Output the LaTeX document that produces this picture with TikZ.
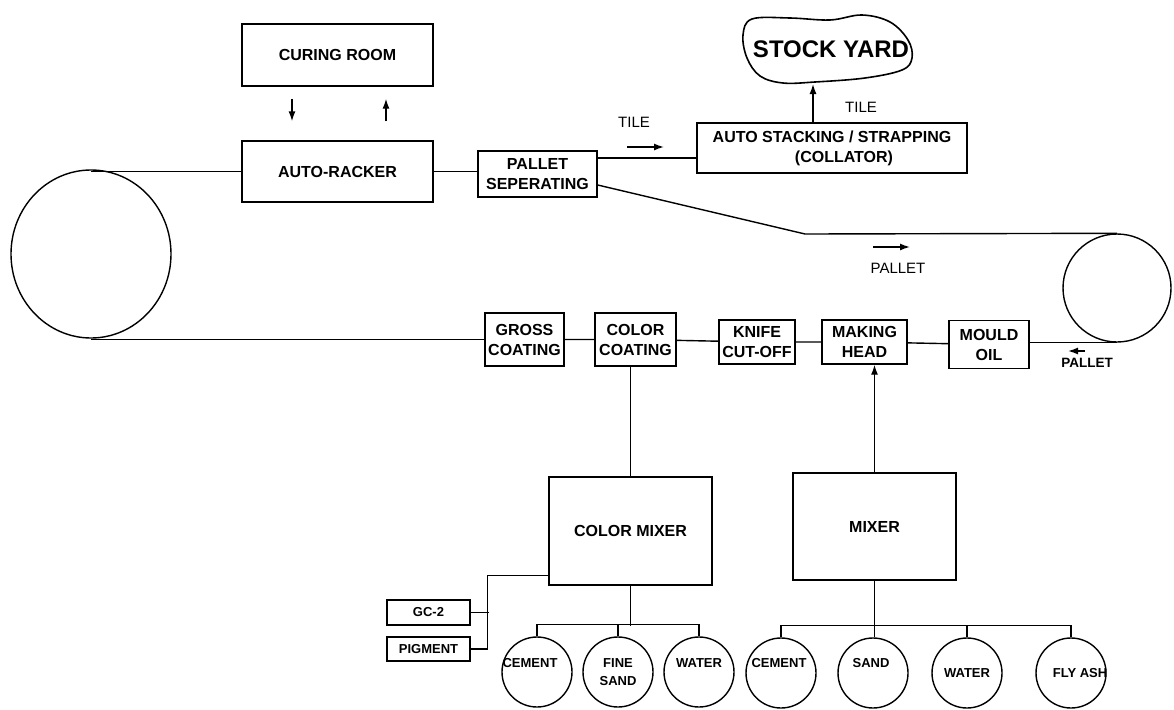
\documentclass[tikz,border=0pt]{standalone}
\usepackage{fontspec}
\setmainfont{Liberation Sans}
\usetikzlibrary{shapes.geometric,arrows.meta}

\tikzset{
  unit/.style={draw, inner sep=0pt, align=center, font=\bfseries\fontsize{16}{20}\selectfont},
  feed/.style={draw, inner sep=0pt, font=\bfseries\fontsize{13}{16}\selectfont},
  bin/.style={circle, draw, minimum size=70pt, inner sep=0pt},
  binlbl/.style={font=\bfseries\fontsize{13}{18}\selectfont, align=center, inner sep=0pt},
  flow/.style={font=\fontsize{15}{18}\selectfont, inner sep=0pt}
}

\begin{document}
\begin{tikzpicture}[x=1pt, y=-1pt, line width=1.4pt, >={Latex[length=10pt,width=7pt]}]
\useasboundingbox (0,0) rectangle (1174,709);

% curing room and racker
\node[unit, minimum width=191pt, minimum height=62pt] (curing) at (337.5,55) {CURING ROOM};
\node[unit, minimum width=191pt, minimum height=61pt] (racker) at (337.5,171.5) {AUTO-RACKER};
\draw[->, shorten <=12pt, shorten >=19pt] ([xshift=-45.5pt]curing.south) -- ([xshift=-45.5pt]racker.north);
\draw[->, shorten <=19pt, shorten >=12pt] ([xshift=48.5pt]racker.north) -- ([xshift=48.5pt]curing.south);

% separating and stacking
\node[unit, minimum width=119pt, minimum height=46pt] (palsep) at (537.5,174) {PALLET\\SEPERATING};
\node[unit, minimum width=270pt, minimum height=50pt] (stack) at (832,148) {AUTO STACKING / STRAPPING\\\hspace*{24pt}(COLLATOR)};
\draw (racker.east) -- (racker.east -| palsep.west);
\draw ([yshift=16pt]palsep.east) -- ([yshift=16pt]palsep.east -| stack.west);
\node[flow] (tilein) at (634,122) {TILE};
\draw[->] ([shift={(-7,25)}]tilein.center) -- ++(37,0);

% stock yard
\draw[line width=1.6pt] plot[smooth cycle, tension=0.6] coordinates {(743,35) (752,19) (790,18) (830,20) (862,15) (890,22) (908,40) (912,58) (902,70) (865,78) (815,82) (783,83) (760,76) (747,58)};
\node[font=\bfseries\fontsize{24}{28}\selectfont, inner sep=0pt] (yard) at (831,49) {STOCK YARD};
\coordinate (yardfoot) at (813,84);
\draw[->] (stack.north -| yardfoot) -- (yardfoot);
\node[flow] (tileup) at (861,107) {TILE};

% wheels
\node[draw, ellipse, minimum width=160pt, minimum height=168pt, inner sep=0pt] (wheell) at (91,254) {};
\node[draw, circle, minimum size=108pt, inner sep=0pt] (wheelr) at (1117,288) {};

% forming line
\node[unit, minimum width=79pt, minimum height=53pt] (gross) at (524.5,339.5) {GROSS\\COATING};
\node[unit, minimum width=81pt, minimum height=53pt] (colorcoat) at (635.5,339.5) {COLOR\\COATING};
\node[unit, minimum width=76pt, minimum height=44pt] (knife) at (757,342) {KNIFE\\CUT-OFF};
\node[unit, minimum width=85pt, minimum height=44pt] (making) at (864.5,342) {MAKING\\HEAD};
\node[unit, minimum width=80pt, minimum height=48pt] (mould) at (989,344.5) {MOULD\\OIL};
\draw (gross) -- (colorcoat) -- (knife) -- (making) -- (mould);

% pallet return
\draw (racker.west) -- (racker.west -| wheell.north);
\draw (gross.west) -- (gross.west -| wheell.south);
\coordinate (dip) at (805,234);
\draw ([yshift=-11pt]palsep.east) -- (dip) -- (wheelr.north);
\draw (mould.east |- wheelr.south) -- (wheelr.south);
\node[flow] (palletmid) at (898,268) {PALLET};
\draw[->] ([shift={(-25,-21)}]palletmid.center) -- ++(37,0);
\node[flow, font=\bfseries\fontsize{13.5}{16}\selectfont] (palletin) at (1087,363) {PALLET};
\draw[->] ([shift={(-2,-12)}]palletin.center) -- ++(-17,0);

% mixers
\node[unit, minimum width=163pt, minimum height=108pt] (colormix) at (630.5,531) {COLOR MIXER};
\node[unit, minimum width=163pt, minimum height=107pt] (mixer) at (874.5,526.5) {MIXER};
\draw (colormix.north) -- (colormix.north |- colorcoat.south);
\draw[->] (mixer.north) -- (mixer.north |- making.south);

% additives
\node[feed, minimum width=83pt, minimum height=25pt] (gc) at (428.5,612.5) {GC-2};
\node[feed, minimum width=83pt, minimum height=24pt] (pigment) at (428.5,649) {PIGMENT};
\draw ([yshift=10pt]colormix.south west) -- ++(-61,0) |- (pigment.east);
\draw (gc.east) -- ++(18,0);

% raw materials
\node[bin, label={[binlbl, xshift=-7pt, yshift=9pt]center:CEMENT}] (cement1) at (537,672) {};
\node[bin, label={[binlbl]center:{FINE\\SAND}}] (sand1) at (618,672) {};
\node[bin, label={[binlbl, yshift=9pt]center:WATER}] (water1) at (699,672) {};
\node[bin, label={[binlbl, xshift=-2pt, yshift=10pt]center:CEMENT}] (cement2) at (781,673) {};
\node[bin, label={[binlbl, xshift=-2pt, yshift=10pt]center:SAND}] (sand2) at (873,673) {};
\node[bin, label={[binlbl]center:WATER}] (water2) at (967,673) {};
\node[bin, label={[binlbl, xshift=9pt]center:FLY ASH}] (ash) at (1071,673) {};

\draw (colormix.south) -- ++(0,40);
\draw (cement1.north) |- ([yshift=12pt]water1.north) -- (water1.north);
\draw (sand1.north) -- ++(0,-12);
\draw (mixer.south) -- (mixer.south |- sand2.north);
\draw (cement2.north) |- ([yshift=12pt]ash.north) -- (ash.north);
\draw (water2.north) -- ++(0,-12);
\end{tikzpicture}
\end{document}
